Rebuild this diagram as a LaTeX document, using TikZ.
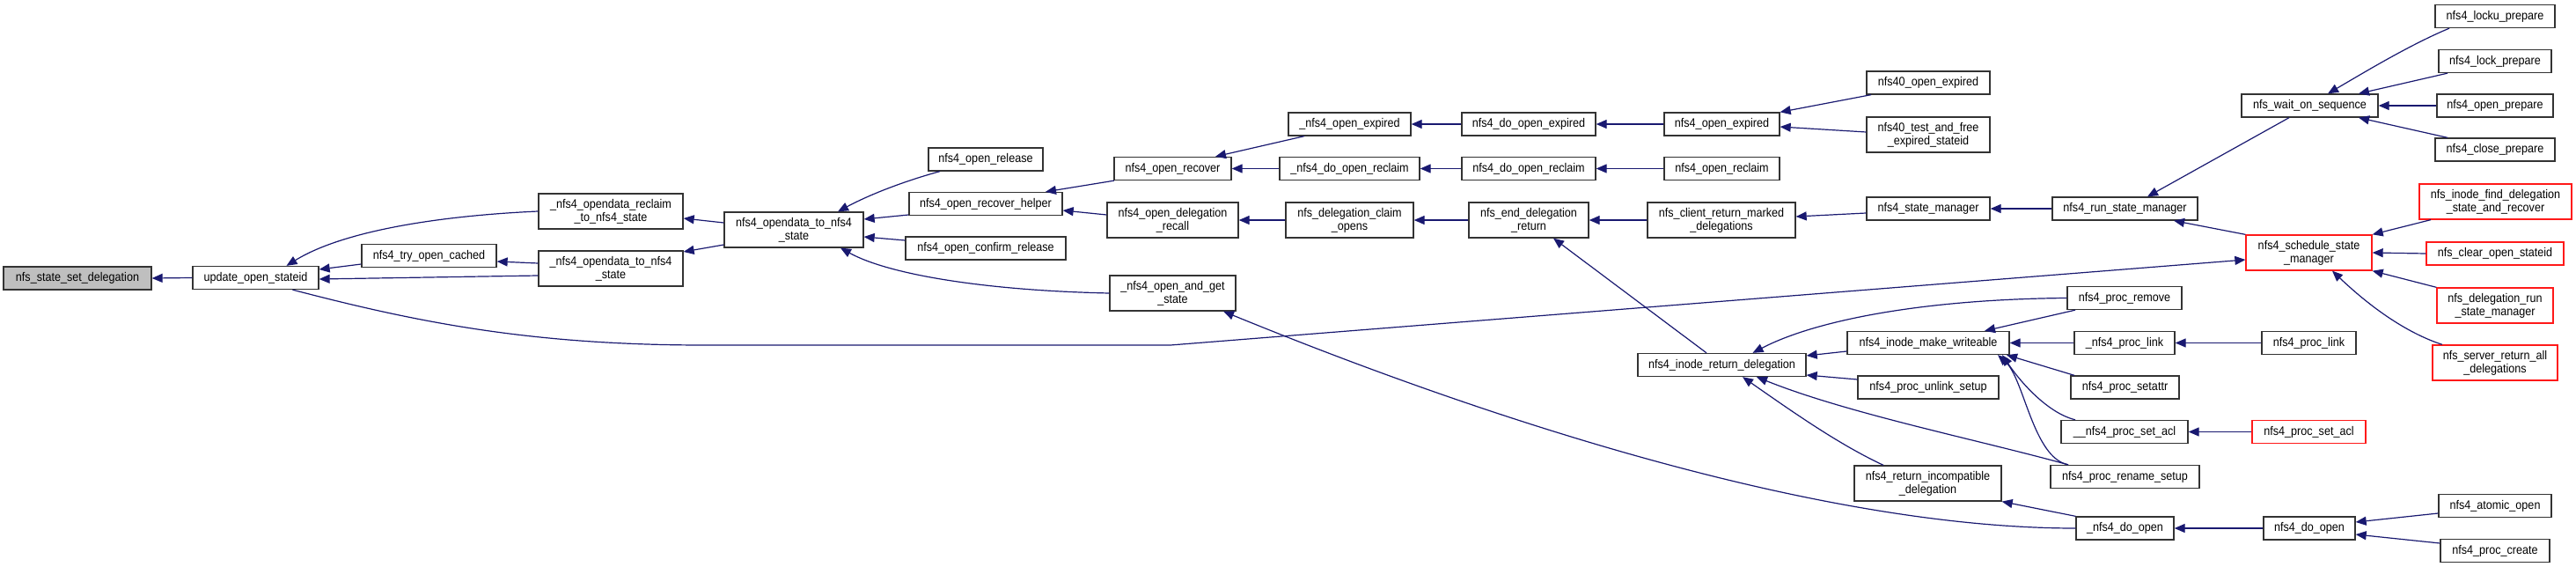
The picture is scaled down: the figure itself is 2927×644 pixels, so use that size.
\documentclass[tikz,border=0pt]{standalone}
\usepackage{fontspec}
\setmainfont{Liberation Sans}[FakeStretch=0.9]
\usetikzlibrary{arrows.meta}
\definecolor{edgec}{HTML}{191970}
\definecolor{grayfill}{HTML}{BFBFBF}
\tikzset{
  box/.style={draw=black!80, line width=1.3pt, fill=white, inner sep=0pt, align=center,
    font=\fontsize{14}{15}\selectfont, minimum height=26pt},
  tall/.style={minimum height=40pt},
  redbox/.style={box, draw=red!90},
  arr/.style={draw=edgec, line width=1.2pt, -{Triangle[length=12pt,width=10pt]}}
}
\begin{document}
\begin{tikzpicture}[x=1pt,y=-1pt]
\useasboundingbox (0,0) rectangle (2927,644);
% nodes
\node[box, fill=grayfill, minimum width=168pt] (sset) at (88,316) {nfs\_state\_set\_delegation};
\node[box, minimum width=143pt] (uos) at (290.5,315.5) {update\_open\_stateid};
\node[box, minimum width=153pt] (toc) at (487.5,290.5) {nfs4\_try\_open\_cached};
\node[box, tall, minimum width=164pt] (rec) at (694,240) {\_nfs4\_opendata\_reclaim\\\_to\_nfs4\_state};
\node[box, tall, minimum width=164pt] (uod) at (694,305) {\_nfs4\_opendata\_to\_nfs4\\\_state};
\node[box, tall, minimum width=158pt] (od) at (902,261) {nfs4\_opendata\_to\_nfs4\\\_state};
\node[box, minimum width=130pt] (orel) at (1120,181) {nfs4\_open\_release};
\node[box, minimum width=174pt] (orh) at (1120,231.5) {nfs4\_open\_recover\_helper};
\node[box, minimum width=182pt] (ocr) at (1120,282) {nfs4\_open\_confirm\_release};
\node[box, tall, minimum width=143pt] (oag) at (1332.5,333) {\_nfs4\_open\_and\_get\\\_state};
\node[box, minimum width=133pt] (orc) at (1332.5,191.5) {nfs4\_open\_recover};
\node[box, tall, minimum width=149pt] (odr) at (1332.5,250) {nfs4\_open\_delegation\\\_recall};
\node[box, minimum width=139pt] (uoe) at (1533.5,141) {\_nfs4\_open\_expired};
\node[box, minimum width=159pt] (udor) at (1533.5,191.5) {\_nfs4\_do\_open\_reclaim};
\node[box, tall, minimum width=145pt] (dco) at (1533.5,250) {nfs\_delegation\_claim\\\_opens};
\node[box, minimum width=152pt] (doe) at (1737,141) {nfs4\_do\_open\_expired};
\node[box, minimum width=152pt] (dor) at (1737,191.5) {nfs4\_do\_open\_reclaim};
\node[box, tall, minimum width=136pt] (edr) at (1737,250) {nfs\_end\_delegation\\\_return};
\node[box, minimum width=131pt] (oe) at (1956.5,141) {nfs4\_open\_expired};
\node[box, minimum width=131pt] (ore) at (1956.5,191.5) {nfs4\_open\_reclaim};
\node[box, tall, minimum width=168pt] (crm) at (1956,250) {nfs\_client\_return\_marked\\\_delegations};
\node[box, minimum width=140pt] (ofe) at (2191,94) {nfs40\_open\_expired};
\node[box, tall, minimum width=140pt] (tfe) at (2191,153) {nfs40\_test\_and\_free\\\_expired\_stateid};
\node[box, minimum width=140pt] (sm) at (2191,237) {nfs4\_state\_manager};
\node[box, minimum width=165pt] (rsm) at (2414.5,237) {nfs4\_run\_state\_manager};
\node[box, minimum width=155pt] (wos) at (2624.5,120) {nfs\_wait\_on\_sequence};
\node[box, minimum width=136pt] (lu) at (2835,18.5) {nfs4\_locku\_prepare};
\node[box, minimum width=128pt] (lp) at (2835,69.5) {nfs4\_lock\_prepare};
\node[box, minimum width=132pt] (op) at (2835,120) {nfs4\_open\_prepare};
\node[box, minimum width=136pt] (cp) at (2835,170) {nfs4\_close\_prepare};
\node[redbox, tall, minimum width=143pt] (ssm) at (2623.5,287) {nfs4\_schedule\_state\\\_manager};
\node[redbox, tall, minimum width=173pt] (fdr) at (2835.5,229) {nfs\_inode\_find\_delegation\\\_state\_and\_recover};
\node[redbox, minimum width=156pt] (cos) at (2835,288) {nfs\_clear\_open\_stateid};
\node[redbox, tall, minimum width=132pt] (drs) at (2835,347) {nfs\_delegation\_run\\\_state\_manager};
\node[redbox, tall, minimum width=142pt] (sra) at (2835,412) {nfs\_server\_return\_all\\\_delegations};
\node[box, minimum width=191pt] (ird) at (1956.5,414.5) {nfs4\_inode\_return\_delegation};
\node[box, minimum width=184pt] (imw) at (2191,389.5) {nfs4\_inode\_make\_writeable};
\node[box, minimum width=160pt] (pus) at (2191,440) {nfs4\_proc\_unlink\_setup};
\node[box, tall, minimum width=167pt] (ric) at (2190.5,549) {nfs4\_return\_incompatible\\\_delegation};
\node[box, minimum width=130pt] (prm) at (2414,338.5) {nfs4\_proc\_remove};
\node[box, minimum width=114pt] (upl) at (2414,389.5) {\_nfs4\_proc\_link};
\node[box, minimum width=123pt] (psa) at (2414.5,440) {nfs4\_proc\_setattr};
\node[box, minimum width=144pt] (uupsa) at (2414,490.5) {\_\_nfs4\_proc\_set\_acl};
\node[box, minimum width=169pt] (prs) at (2414.5,541.5) {nfs4\_proc\_rename\_setup};
\node[box, minimum width=111pt] (udo) at (2414.5,600) {\_nfs4\_do\_open};
\node[box, minimum width=107pt] (pl) at (2623.5,389.5) {nfs4\_proc\_link};
\node[redbox, minimum width=129pt] (psacl) at (2623.5,490.5) {nfs4\_proc\_set\_acl};
\node[box, minimum width=104pt] (do) at (2624,600) {nfs4\_do\_open};
\node[box, minimum width=128pt] (ao) at (2835,574.5) {nfs4\_atomic\_open};
\node[box, minimum width=124pt] (pc) at (2835,625.5) {nfs4\_proc\_create};
% edges
\draw[arr] (uos.west) -- (sset.east);
\draw[arr] (rec.west) .. controls (500,245) and (390,262) .. ([xshift=35pt]uos.north);
\draw[arr] ([yshift=-9.5pt]toc.west) -- ([yshift=9.5pt]uos.east);
\draw[arr] ([yshift=-8pt]uod.west) -- ([yshift=-1.5pt]uos.east);
\draw[arr] ([xshift=42pt]uos.south) .. controls (470,365) and (600,392) .. (800,392) -- (1330,392) -- ([yshift=-8pt]ssm.west);
\draw[arr] ([yshift=8pt]od.west) -- ([yshift=-8pt]rec.east);
\draw[arr] ([yshift=-17pt]od.west) -- ([yshift=19pt]uod.east);
\draw[arr] ([yshift=6pt]uod.west) -- ([yshift=-6.5pt]toc.east);
\draw[arr] ([xshift=-52pt]orel.south) .. controls (1030,205) and (990,220) .. ([xshift=50pt]od.north);
\draw[arr] ([yshift=-12.5pt]orh.west) -- ([yshift=12pt]od.east);
\draw[arr] ([yshift=9pt]ocr.west) -- ([yshift=-8pt]od.east);
\draw[arr] (oag.west) .. controls (1120,330) and (1010,312) .. ([xshift=53pt]od.south);
\draw[arr] ([xshift=-66.5pt]orc.south) -- ([xshift=68pt]orh.north);
\draw[arr] ([yshift=6pt]odr.west) -- ([yshift=-7.5pt]orh.east);
\draw[arr] ([xshift=-51.5pt]uoe.south) -- ([xshift=48.5pt]orc.north);
\draw[arr] (udor.west) -- (orc.east);
\draw[arr] (dco.west) -- (odr.east);
\draw[arr] (doe.west) -- (uoe.east);
\draw[arr] (oe.west) -- (doe.east);
\draw[arr] ([xshift=-65pt]ofe.south) -- (oe.north east);
\draw[arr] ([yshift=3pt]tfe.west) -- ([yshift=-3pt]oe.east);
\draw[arr] (dor.west) -- (udor.east);
\draw[arr] (ore.west) -- (dor.east);
\draw[arr] (edr.west) -- (dco.east);
\draw[arr] (crm.west) -- (edr.east);
\draw[arr] ([xshift=-17.5pt]ird.north) -- ([xshift=28pt]edr.south);
\draw[arr] ([yshift=-5pt]sm.west) -- ([yshift=4pt]crm.east);
\draw[arr] (rsm.west) -- (sm.east);
\draw[arr] ([xshift=-23.5pt]wos.south) -- ([xshift=25.5pt]rsm.north);
\draw[arr] (ssm.north west) -- ([xshift=55.5pt]rsm.south);
\draw[arr] ([xshift=-52pt]lu.south) .. controls (2740,50) and (2690,80) .. ([xshift=20.5pt]wos.north);
\draw[arr] ([xshift=-54pt]lp.south) -- ([xshift=55.5pt]wos.north);
\draw[arr] (op.west) -- (wos.east);
\draw[arr] ([xshift=-54pt]cp.north) -- ([xshift=55.5pt]wos.south);
\draw[arr] ([xshift=-73.5pt]fdr.south) -- (ssm.north east);
\draw[arr] (cos.west) -- (ssm.east);
\draw[arr] (drs.north west) -- (ssm.south east);
\draw[arr] ([xshift=-60pt]sra.north) .. controls (2740,380) and (2700,355) .. ([xshift=26.5pt]ssm.south);
\draw[arr] (udo.west) .. controls (2050,600) and (1650,460) .. ([xshift=57.5pt]oag.south);
\draw[arr] ([yshift=-9.5pt]imw.west) -- ([yshift=10.5pt]ird.east);
\draw[arr] (prm.west) .. controls (2180,340) and (2060,365) .. ([xshift=35pt]ird.north);
\draw[arr] ([yshift=9pt]pus.west) -- ([yshift=-11.5pt]ird.east);
\draw[arr] ([xshift=-64.5pt]prs.north) .. controls (2250,500) and (2100,470) .. ([xshift=39.5pt]ird.south);
\draw[arr] ([xshift=-50.5pt]ric.north) .. controls (2090,505) and (2040,470) .. ([xshift=23.5pt]ird.south);
\draw[arr] ([xshift=-56pt]prm.south) -- ([xshift=64pt]imw.north);
\draw[arr] (upl.west) -- (imw.east);
\draw[arr] ([xshift=-57.5pt]psa.north) -- ([xshift=89pt]imw.south);
\draw[arr] ([xshift=-56pt]uupsa.north) .. controls (2330,470) and (2300,440) .. ([xshift=84pt]imw.south);
\draw[arr] ([xshift=-64.5pt]prs.north) .. controls (2310,520) and (2300,430) .. ([xshift=79pt]imw.south);
\draw[arr] (udo.north west) -- (ric.south east);
\draw[arr] (pl.west) -- (upl.east);
\draw[arr] (psacl.west) -- (uupsa.east);
\draw[arr] (do.west) -- (udo.east);
\draw[arr] ([yshift=-8.5pt]ao.west) -- ([yshift=7pt]do.east);
\draw[arr] ([yshift=8.5pt]pc.west) -- ([yshift=-7pt]do.east);
\end{tikzpicture}
\end{document}
